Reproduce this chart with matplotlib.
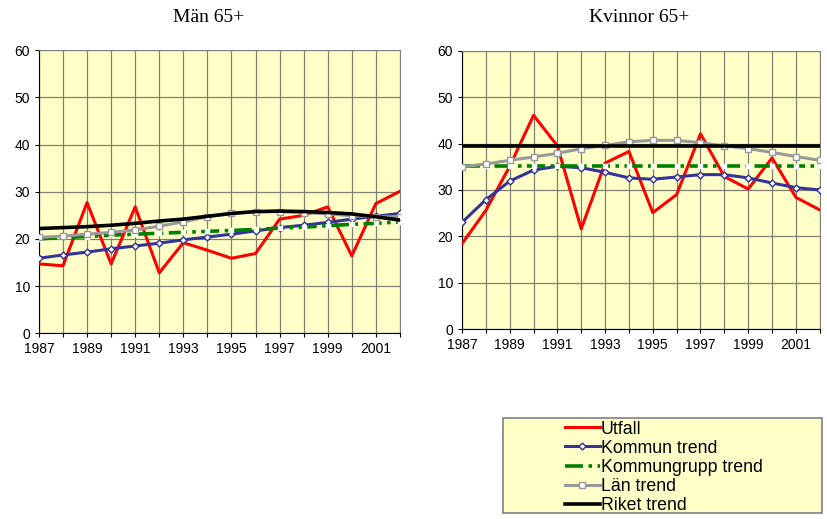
import matplotlib.pyplot as plt
from matplotlib.lines import Line2D
from matplotlib.patches import Rectangle

# Data
years = list(range(1987, 2003))
year_labels = ['1987', '1989', '1991', '1993', '1995', '1997', '1999', '2001']

# Män 65+
man_utfall = [14.7, 14.3, 27.7, 14.7, 26.8, 12.8, 19.2, 17.6, 15.9, 16.9, 24.2, 25.0, 26.8, 16.4, 27.5, 30.1]
man_kommun = [15.9, 16.6, 17.2, 17.9, 18.5, 19.1, 19.8, 20.4, 21.0, 21.7, 22.4, 22.9, 23.5, 24.2, 24.8, 25.4]
man_kgrupp = [20.0, 20.3, 20.5, 20.8, 21.0, 21.2, 21.4, 21.6, 21.8, 22.0, 22.3, 22.5, 22.8, 23.1, 23.3, 23.6]
man_lan = [20.3, 20.6, 21.0, 21.4, 21.9, 22.7, 23.6, 24.7, 25.4, 25.8, 25.8, 25.6, 25.3, 24.9, 24.7, 24.7]
man_riket = [22.2, 22.4, 22.6, 22.9, 23.3, 23.8, 24.2, 24.8, 25.4, 25.8, 25.9, 25.8, 25.6, 25.3, 24.7, 24.0]

# Kvinnor 65+
kv_utfall = [18.4, 25.6, 35.1, 46.1, 39.5, 21.6, 35.8, 38.3, 25.1, 29.0, 42.1, 32.9, 30.2, 36.9, 28.4, 25.7]
kv_kommun = [23.0, 27.9, 31.9, 34.3, 35.1, 34.8, 33.8, 32.6, 32.3, 32.8, 33.3, 33.3, 32.6, 31.5, 30.5, 30.0]
kv_kgrupp = [35.1] * 16
kv_lan = [35.0, 35.6, 36.4, 37.1, 37.9, 38.9, 39.6, 40.4, 40.7, 40.7, 40.2, 39.5, 38.9, 38.1, 37.2, 36.4]
kv_riket = [39.5] * 16

BG = '#FFFFC8'
RED = '#FF0000'
BLUE = '#333399'
GREEN = '#008000'
GRAY = '#999999'
DASHDOT = (0, (5, 1.5, 1, 1.5))
W, H = 828, 519


def rita_diagram(ax, utfall, kommun, kgrupp, lan, riket):
    ax.set_facecolor(BG)
    ax.plot(years, utfall, color=RED, lw=2.2, zorder=3)
    ax.plot(years, kommun, color=BLUE, lw=2.2, marker='D', ms=3.5,
            mfc='white', mec=BLUE, mew=1, zorder=4)
    ax.plot(years, kgrupp, color=GREEN, lw=2.6, ls=DASHDOT, marker='s', ms=3.5,
            mfc='white', mec='white', zorder=5)
    ax.plot(years, lan, color=GRAY, lw=2.2, marker='s', ms=4.5,
            mfc='white', mec=GRAY, mew=1, zorder=6)
    ax.plot(years, riket, color='black', lw=2.6, zorder=7)

    ax.set_xlim(1987, 2002)
    ax.set_ylim(0, 60)
    ax.set_xticks(years)
    ax.set_xticklabels([str(y) if str(y) in year_labels else '' for y in years])
    ax.set_yticks(range(0, 61, 10))
    ax.grid(True, color='#808070', lw=0.9)
    ax.set_axisbelow(True)
    ax.tick_params(direction='out', length=3, width=0.8, labelsize=10, colors='black')
    for lab in ax.get_xticklabels() + ax.get_yticklabels():
        lab.set_fontfamily('Liberation Sans')
    ax.spines['left'].set_color('black')
    ax.spines['bottom'].set_color('black')
    ax.spines['top'].set_color('#808080')
    ax.spines['right'].set_color('#808080')


def main():
    fig = plt.figure(figsize=(8.28, 5.19), dpi=100)
    ax1 = fig.add_axes([0.047, 0.358, 0.436, 0.545])
    ax2 = fig.add_axes([0.558, 0.366, 0.432, 0.536])

    rita_diagram(ax1, man_utfall, man_kommun, man_kgrupp, man_lan, man_riket)
    rita_diagram(ax2, kv_utfall, kv_kommun, kv_kgrupp, kv_lan, kv_riket)

    # Rubriker
    fig.text(208.5 / W, 1 - 17 / H, 'Män 65+', ha='center', va='center',
             fontfamily='Liberation Serif', fontsize=14)
    fig.text(639.5 / W, 1 - 17 / H, 'Kvinnor 65+', ha='center', va='center',
             fontfamily='Liberation Serif', fontsize=14)

    # Legendruta
    box = Rectangle((503 / W, 1 - 513 / H), 319 / W, 95 / H, transform=fig.transFigure,
                    facecolor=BG, edgecolor='#808080', lw=1.2, zorder=0)
    fig.patches.append(box)

    handles = [
        Line2D([], [], color=RED, lw=2.2),
        Line2D([], [], color=BLUE, lw=2.2, marker='D', ms=3.5, mfc='white', mec=BLUE),
        Line2D([], [], color=GREEN, lw=2.6, ls=DASHDOT),
        Line2D([], [], color=GRAY, lw=2.2, marker='s', ms=4.5, mfc='white', mec=GRAY),
        Line2D([], [], color='black', lw=2.6),
    ]
    labels = ['Utfall', 'Kommun trend', 'Kommungrupp trend', 'Län trend', 'Riket trend']
    fig.legend(handles, labels, loc='upper left', bbox_to_anchor=(561 / W, 1 - 417 / H),
               bbox_transform=fig.transFigure, frameon=False,
               prop={'family': 'Liberation Sans', 'size': 12.8},
               handlelength=2.0, handletextpad=0.05, labelspacing=0.12,
               borderpad=0.2, borderaxespad=0)

    fig.savefig('out.png', dpi=100)


if __name__ == '__main__':
    main()
